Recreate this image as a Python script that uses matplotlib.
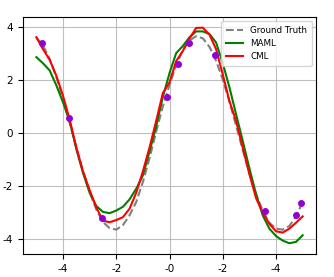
import matplotlib
matplotlib.use("Agg")
import matplotlib.pyplot as plt

plt.rcParams["axes.unicode_minus"] = False

# x grid shared by all curves
x = [-5.00, -4.75, -4.50, -4.25, -4.00, -3.75, -3.50, -3.25, -3.00, -2.75,
     -2.50, -2.25, -2.00, -1.75, -1.50, -1.25, -1.00, -0.75, -0.50, -0.25,
     0.00, 0.25, 0.50, 0.75, 1.00, 1.25, 1.50, 1.75, 2.00, 2.25,
     2.50, 2.75, 3.00, 3.25, 3.50, 3.75, 4.00, 4.25, 4.50, 4.75, 5.00]

ground_truth = [3.59, 3.29, 2.78, 2.10, 1.28, 0.38, -0.53, -1.42, -2.22, -2.88,
                -3.35, -3.58, -3.64, -3.47, -3.10, -2.60, -1.85, -0.95, 0.05, 1.00,
                1.80, 2.55, 3.12, 3.48, 3.64, 3.56, 3.24, 2.71, 2.01, 1.18,
                0.28, -0.64, -1.51, -2.30, -2.92, -3.38, -3.60, -3.64, -3.50, -3.15, -2.60]

maml = [2.85, 2.62, 2.35, 1.79, 1.15, 0.45, -0.60, -1.50, -2.25, -2.75,
        -2.97, -3.02, -2.92, -2.78, -2.50, -2.10, -1.60, -0.70, 0.25, 1.35,
        2.25, 3.00, 3.27, 3.60, 3.82, 3.82, 3.72, 3.40, 2.62, 1.72,
        0.70, -0.30, -1.33, -2.30, -3.10, -3.60, -3.88, -4.05, -4.15, -4.10, -3.85]

cml = [3.60, 3.15, 2.75, 2.15, 1.40, 0.50, -0.55, -1.45, -2.15, -2.80,
       -3.30, -3.36, -3.28, -3.17, -2.85, -2.25, -1.45, -0.55, 0.45, 1.50,
       1.90, 2.70, 3.08, 3.55, 3.95, 3.96, 3.70, 3.15, 2.20, 1.20,
       0.45, -0.55, -1.55, -2.45, -3.00, -3.42, -3.70, -3.75, -3.60, -3.38, -3.14]

# support samples (K-shot points)
sample_x = [-4.77, -3.76, -2.55, -0.10, 0.32, 0.72, 1.72, 3.59, 4.76, 4.95]
sample_y = [3.40, 0.56, -3.21, 1.35, 2.61, 3.40, 2.93, -2.92, -3.08, -2.63]

xtick_vals = [-4, -2, 0, 2, 4]
xtick_labels = ["-4", "-2", "-0", "-2", "-4"]
ytick_vals = [-4, -2, 0, 2, 4]


def main() -> None:
    fig = plt.figure(figsize=(3.34, 2.77), dpi=100)
    ax = fig.add_axes([0.069, 0.083, 0.877, 0.856])

    ax.plot(x, ground_truth, color="gray", linestyle="--", linewidth=1.5, label="Ground Truth")
    ax.plot(x, maml, color="green", linewidth=1.5, label="MAML")
    ax.plot(x, cml, color="red", linewidth=1.5, label="CML")
    ax.scatter(sample_x, sample_y, color="darkviolet", s=16, zorder=5)

    ax.set_xticks(xtick_vals)
    ax.set_xticklabels(xtick_labels)
    ax.set_yticks(ytick_vals)
    ax.tick_params(labelsize=7.5, length=3.5, width=0.8)
    ax.grid(True, color="#b0b0b0", linewidth=0.8, alpha=0.8)
    ax.set_axisbelow(True)

    ax.legend(loc="upper right", fontsize=6.3, handlelength=2.0, borderpad=0.5)

    fig.savefig("out.png", dpi=100)
    plt.close(fig)


if __name__ == "__main__":
    main()
